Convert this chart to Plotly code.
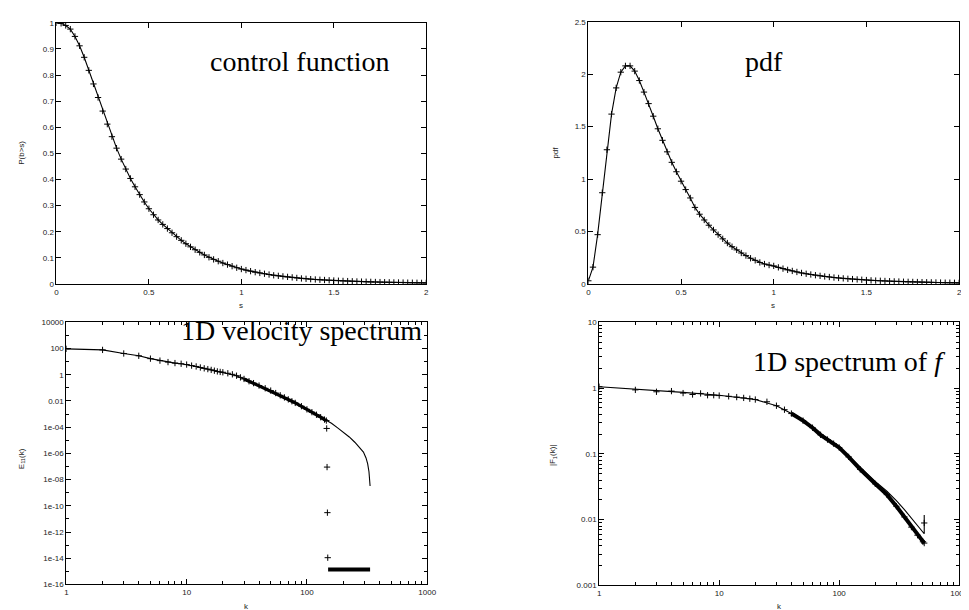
import plotly.graph_objects as go

# ---------------- data ----------------
# sample grid (s) for the two top panels
s_vals = [round(0.025 * i, 3) for i in range(81)]

# control function P(b>s)
p_vals = [1.000, 0.998, 0.990, 0.976, 0.948, 0.912, 0.868, 0.818, 0.766, 0.714,
          0.662, 0.612, 0.564, 0.520, 0.478, 0.440, 0.404, 0.372, 0.342, 0.314,
          0.288, 0.265, 0.245, 0.228, 0.212, 0.196, 0.181, 0.167, 0.154, 0.142,
          0.131, 0.121, 0.111, 0.102, 0.094, 0.087, 0.080, 0.074, 0.068, 0.062,
          0.057, 0.053, 0.049, 0.045, 0.042, 0.039, 0.036, 0.033, 0.031, 0.029,
          0.027, 0.025, 0.023, 0.021, 0.0196, 0.0183, 0.0171, 0.016, 0.015, 0.014,
          0.0131, 0.0123, 0.0115, 0.0108, 0.0101, 0.0095, 0.0089, 0.0084, 0.0079, 0.0074,
          0.0070, 0.0066, 0.0062, 0.0058, 0.0055, 0.0052, 0.0049, 0.0046, 0.0044, 0.0041,
          0.0039]

# pdf
pdf_vals = [0.03, 0.16, 0.47, 0.87, 1.28, 1.62, 1.87, 2.02, 2.08, 2.08,
            2.03, 1.94, 1.83, 1.72, 1.60, 1.48, 1.37, 1.26, 1.16, 1.07,
            0.98, 0.90, 0.82, 0.73, 0.665, 0.61, 0.56, 0.515, 0.47, 0.43,
            0.39, 0.355, 0.325, 0.295, 0.27, 0.245, 0.225, 0.205, 0.19, 0.18,
            0.172, 0.158, 0.146, 0.134, 0.124, 0.114, 0.105, 0.097, 0.090, 0.083,
            0.077, 0.071, 0.066, 0.061, 0.057, 0.053, 0.049, 0.046, 0.043, 0.040,
            0.037, 0.034, 0.032, 0.030, 0.028, 0.026, 0.024, 0.023, 0.021, 0.020,
            0.019, 0.018, 0.017, 0.016, 0.015, 0.014, 0.013, 0.012, 0.012, 0.011,
            0.010]

# 1D velocity spectrum E11(k)
k_e_main = [1, 2, 3, 4, 5, 6, 7, 8, 9, 10, 11, 12, 13, 14, 15, 16, 17, 18, 19, 20,
            22, 24, 26, 28, 30, 33, 36, 40, 45, 50, 55, 60, 65, 70, 75, 80, 90, 100,
            110, 120, 130, 140, 145]
e_main = [95, 79, 42, 28, 17, 12, 9.3, 7.8, 6.9, 6.0, 5.0, 4.3, 3.6, 3.1, 2.7, 2.35,
          2.05, 1.8, 1.65, 1.55, 1.3, 1.08, 0.85, 0.63, 0.48, 0.32, 0.23, 0.15, 0.093,
          0.062, 0.040, 0.027, 0.0186, 0.0132, 0.0095, 0.0071, 0.0040, 0.0023, 0.0014,
          8.9e-4, 5.8e-4, 3.8e-4, 3.2e-4]
# samples that fall off at the cut-off
k_e_drop = [146, 147, 148, 149]
e_drop = [8e-5, 9e-8, 3e-11, 1.1e-14]
# floor band of samples beyond the cut-off
k_e_floor = [150, 335]
e_floor = [1.4e-15, 1.4e-15]
# continuous (model) curve beyond k = 145
k_e_tail = [150, 160, 180, 200, 225, 250, 275, 295, 310, 320, 328, 333, 335]
e_tail = [3.0e-4, 2.0e-4, 8.9e-5, 4.5e-5, 1.8e-5, 7.1e-6, 2.8e-6, 1.26e-6, 4.5e-7,
          1.6e-7, 4e-8, 1e-8, 3.2e-9]

# 1D spectrum of f, |F1(k)|
k_f_pts = [1, 2, 3, 4, 5, 6, 7, 8, 9, 10, 12, 14, 16, 18, 20, 25, 30, 35, 40, 50, 60,
           70, 80, 90, 100, 120, 150, 200, 250, 300, 350, 400, 450, 500, 512]
f_pts = [1.05, 0.94, 0.88, 0.90, 0.84, 0.80, 0.83, 0.78, 0.78, 0.77, 0.75, 0.73, 0.71,
         0.69, 0.67, 0.62, 0.54, 0.47, 0.41, 0.32, 0.25, 0.195, 0.165, 0.143, 0.125,
         0.09, 0.058, 0.035, 0.024, 0.016, 0.011, 0.0077, 0.0058, 0.0046, 0.0044]
k_f_end = [512]
f_end = [0.0089]
k_f_line = [1, 2, 3, 5, 10, 15, 20, 30, 40, 50, 70, 100, 150, 200, 250, 300, 350, 400,
            450, 500, 512, 512]
f_line = [1.05, 0.97, 0.92, 0.86, 0.78, 0.72, 0.67, 0.54, 0.41, 0.32, 0.196, 0.127,
          0.062, 0.038, 0.027, 0.0195, 0.0142, 0.0106, 0.0081, 0.0064, 0.0061, 0.0118]

# tick labels
lin_s_ticks = [0, 0.5, 1, 1.5, 2]
p_ticks = [0, 0.1, 0.2, 0.3, 0.4, 0.5, 0.6, 0.7, 0.8, 0.9, 1]
pdf_ticks = [0, 0.5, 1, 1.5, 2, 2.5]
k_ticks = [1, 10, 100, 1000]
k_ticktext = ["1", "10", "100", "1000"]
e_ticks = [1e-16, 1e-14, 1e-12, 1e-10, 1e-08, 1e-06, 1e-04, 0.01, 1, 100, 10000]
e_ticktext = ["1e-16", "1e-14", "1e-12", "1e-10", "1e-08", "1e-06", "1e-04",
              "0.01", "1", "100", "10000"]
f_ticks = [0.001, 0.01, 0.1, 1, 10]
f_ticktext = ["0.001", "0.01", "0.1", "1", "10"]

# ---------------- figure ----------------
W, H = 969, 610
LINE = dict(color="black", width=1.1)
MARK = dict(symbol="cross-thin", size=4.5, color="black", line=dict(width=1, color="black"))
TICKFONT = dict(family="Liberation Sans", size=8, color="#222")
BIG = dict(family="Liberation Serif", size=28, color="black")


def px_x(a, b):
    return [a / W, b / W]


def px_y(top, bottom):
    return [1 - bottom / H, 1 - top / H]


fig = go.Figure()

# top-left: control function
fig.add_trace(go.Scatter(x=s_vals, y=p_vals, mode="lines+markers", line=LINE,
                         marker=MARK, xaxis="x", yaxis="y", showlegend=False))
# top-right: pdf
fig.add_trace(go.Scatter(x=s_vals, y=pdf_vals, mode="lines+markers", line=LINE,
                         marker=MARK, xaxis="x2", yaxis="y2", showlegend=False))
# bottom-left: E11
fig.add_trace(go.Scatter(x=k_e_main + k_e_tail, y=e_main + e_tail, mode="lines",
                         line=LINE, xaxis="x3", yaxis="y3", showlegend=False))
fig.add_trace(go.Scatter(x=k_e_main + k_e_drop, y=e_main + e_drop, mode="markers",
                         marker=MARK, xaxis="x3", yaxis="y3", showlegend=False))
i30 = k_e_main.index(30)
fig.add_trace(go.Scatter(x=k_e_main[i30:], y=e_main[i30:], mode="lines",
                         line=dict(color="black", width=3.2), xaxis="x3", yaxis="y3",
                         showlegend=False))
fig.add_trace(go.Scatter(x=k_e_floor, y=e_floor, mode="lines",
                         line=dict(color="black", width=4), xaxis="x3", yaxis="y3",
                         showlegend=False))
# bottom-right: F1
fig.add_trace(go.Scatter(x=k_f_line, y=f_line, mode="lines", line=LINE,
                         xaxis="x4", yaxis="y4", showlegend=False))
fig.add_trace(go.Scatter(x=k_f_pts + k_f_end, y=f_pts + f_end, mode="markers",
                         marker=MARK, xaxis="x4", yaxis="y4", showlegend=False))
i40 = k_f_pts.index(40)
fig.add_trace(go.Scatter(x=k_f_pts[i40:], y=f_pts[i40:], mode="lines",
                         line=dict(color="black", width=4), xaxis="x4", yaxis="y4",
                         showlegend=False))


def axis(domain, anchor, **kw):
    d = dict(domain=domain, anchor=anchor, showline=True, linecolor="black",
             linewidth=1, mirror="allticks", ticks="inside", ticklen=5,
             tickcolor="black", tickwidth=1, showgrid=False, zeroline=False,
             tickfont=TICKFONT)
    d.update(kw)
    return d


log_minor_k = [2, 3, 4, 5, 6, 7, 8, 9, 20, 30, 40, 50, 60, 70, 80, 90,
               200, 300, 400, 500, 600, 700, 800, 900]
log_minor_f = [v * m for v in (0.001, 0.01, 0.1, 1) for m in (2, 3, 4, 5, 6, 7, 8, 9)]
e_minor = [1e-15, 1e-13, 1e-11, 1e-9, 1e-7, 1e-5, 1e-3, 0.1, 10, 1000]
MINOR = dict(ticks="inside", ticklen=3, tickcolor="black", tickwidth=1)

fig.update_layout(
    width=W, height=H, margin=dict(l=0, r=0, t=0, b=0),
    paper_bgcolor="white", plot_bgcolor="white",
    xaxis=axis(px_x(47, 421), "y", range=[0, 2], tickvals=lin_s_ticks),
    yaxis=axis(px_y(11, 276), "x", range=[0, 1], tickvals=p_ticks),
    xaxis2=axis(px_x(585, 960), "y2", range=[0, 2], tickvals=lin_s_ticks),
    yaxis2=axis(px_y(10, 276), "x2", range=[0, 2.5], tickvals=pdf_ticks),
    xaxis3=axis(px_x(57, 422), "y3", type="log", range=[0, 3], tickvals=k_ticks,
                ticktext=k_ticktext, minor=dict(tickvals=log_minor_k, **MINOR)),
    yaxis3=axis(px_y(315, 581), "x3", type="log", range=[-16, 4], tickvals=e_ticks,
                ticktext=e_ticktext, minor=dict(tickvals=e_minor, **MINOR)),
    xaxis4=axis(px_x(596, 960), "y4", type="log", range=[0, 3], tickvals=k_ticks,
                ticktext=k_ticktext, minor=dict(tickvals=log_minor_k, **MINOR)),
    yaxis4=axis(px_y(315, 582), "x4", type="log", range=[-3, 1], tickvals=f_ticks,
                ticktext=f_ticktext, minor=dict(tickvals=log_minor_f, **MINOR)),
)

SMALL = dict(family="Liberation Sans", size=8, color="#222")
anns = [
    dict(text="s", x=234, y=298, font=SMALL),
    dict(text="s", x=772, y=298, font=SMALL),
    dict(text="k", x=239, y=603, font=SMALL),
    dict(text="k", x=778, y=603, font=SMALL),
    dict(text="P(b>s)", x=12, y=143, font=SMALL, textangle=-90),
    dict(text="pdf", x=552, y=143, font=SMALL, textangle=-90),
    dict(text="E<sub>11</sub>(k)", x=12, y=453, font=SMALL, textangle=-90),
    dict(text="|F<sub>1</sub>(k)|", x=550, y=450, font=SMALL, textangle=-90),
    dict(text="control function", x=293, y=50, font=BIG),
    dict(text="pdf", x=763, y=50, font=BIG),
    dict(text="1D velocity spectrum", x=295, y=323, font=BIG),
    dict(text="1D spectrum of <i>f</i>", x=849, y=355, font=BIG),
]
for a in anns:
    fig.add_annotation(text=a["text"], x=a["x"] / W, y=1 - a["y"] / H,
                       xref="paper", yref="paper", showarrow=False,
                       xanchor="center", yanchor="middle", font=a["font"],
                       textangle=a.get("textangle", 0))

fig.write_html("out.html")
